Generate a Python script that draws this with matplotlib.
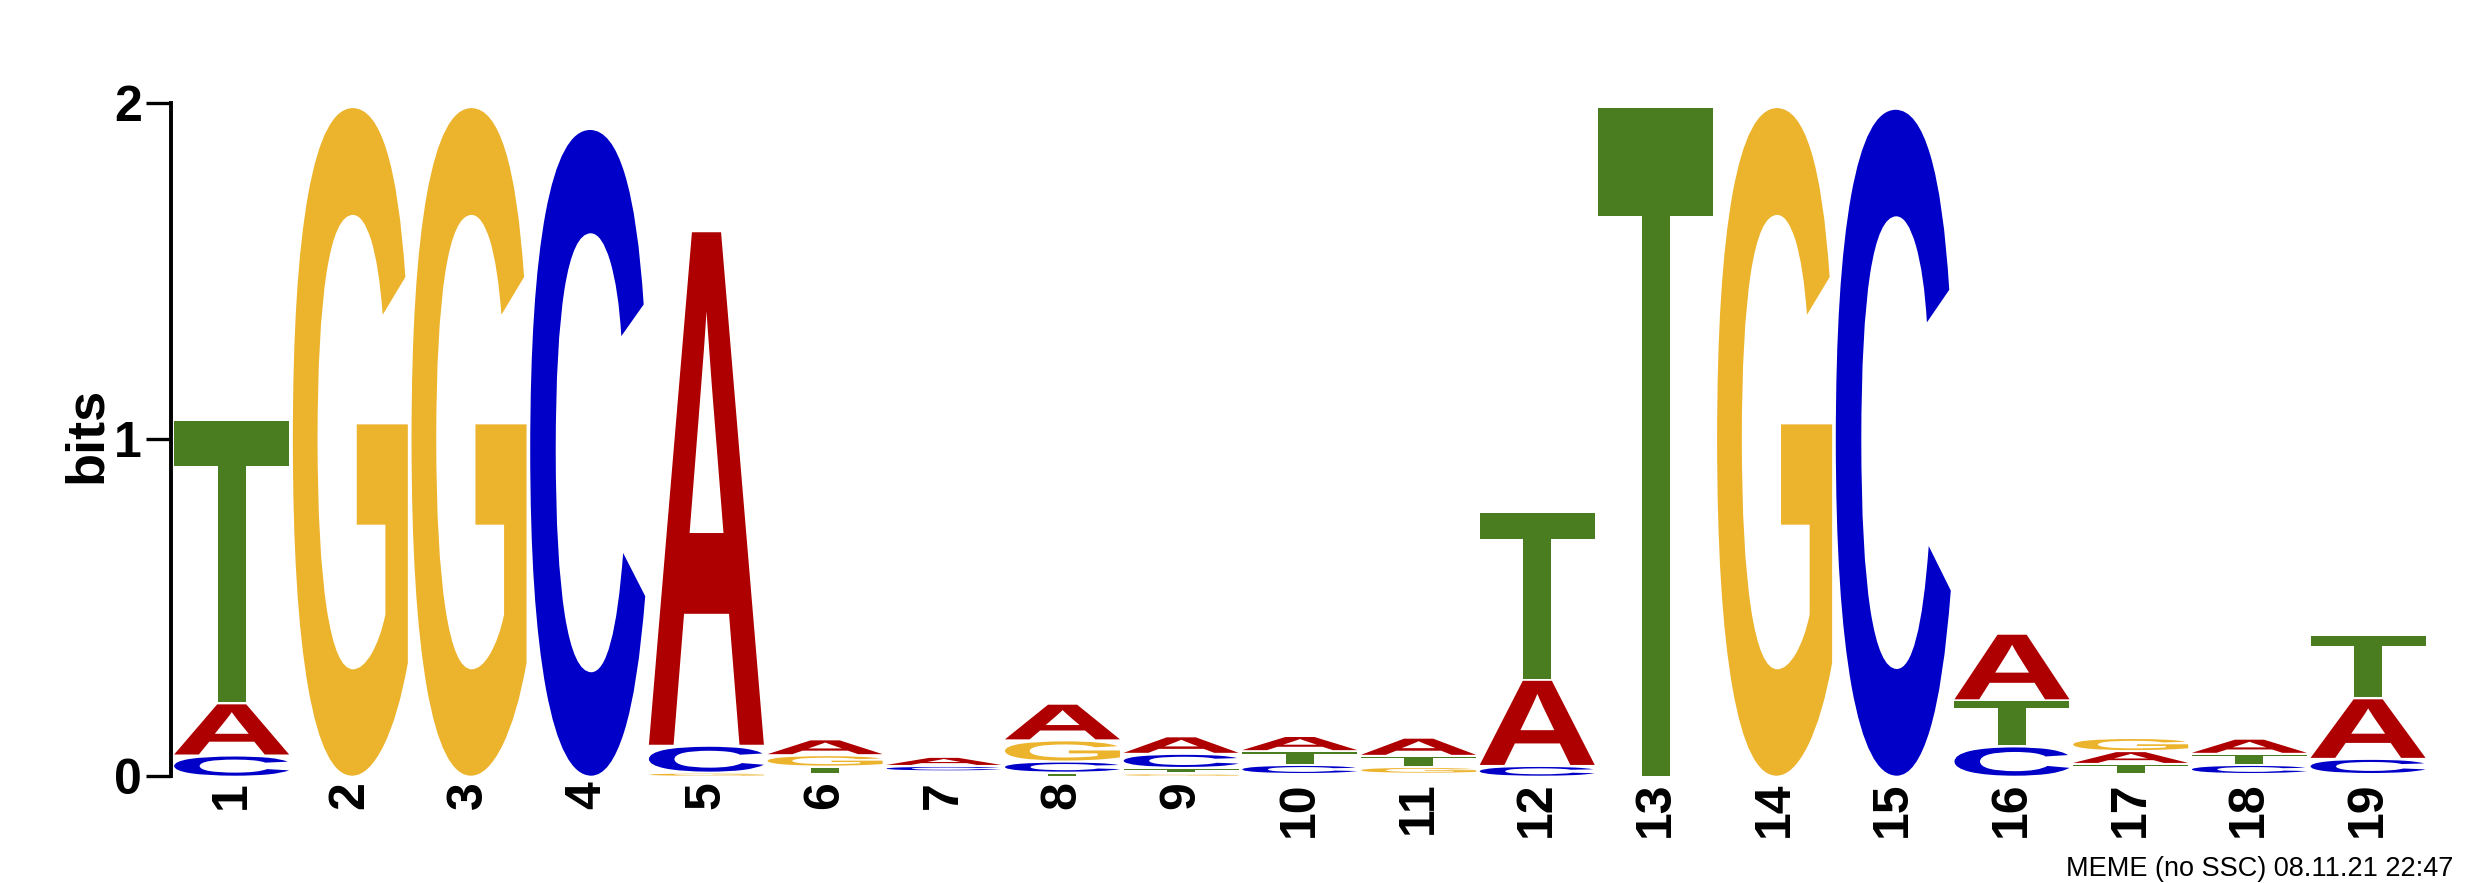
import matplotlib
matplotlib.use('Agg')
import matplotlib.pyplot as plt
from matplotlib.textpath import TextPath
from matplotlib.patches import PathPatch
from matplotlib.font_manager import FontProperties
from matplotlib.transforms import Affine2D

# information content (bits) per letter, positions 1..19
positions = list(range(1, 20))
bits_A = [0.155, 0, 0, 0, 1.529, 0.047, 0.027, 0.109, 0.052, 0.045,
          0.054, 0.256, 0, 0, 0, 0.198, 0.038, 0.045, 0.180]
bits_C = [0.063, 0, 0, 1.925, 0.080, 0.008, 0.016, 0.033, 0.042, 0.027,
          0.009, 0.032, 0, 0, 1.985, 0.090, 0.008, 0.027, 0.045]
bits_G = [0, 1.99, 1.99, 0, 0.012, 0.034, 0.008, 0.063, 0.010, 0.008,
          0.020, 0, 0, 1.99, 0, 0, 0.039, 0.008, 0.008]
bits_T = [0.843, 0, 0, 0, 0, 0.022, 0.008, 0.012, 0.016, 0.041,
          0.033, 0.500, 1.99, 0, 0, 0.137, 0.030, 0.033, 0.187]

colors = {'A': '#AE0000', 'C': '#0000C8', 'G': '#ECB32D', 'T': '#4A7D20'}
letters = {'A': bits_A, 'C': bits_C, 'G': bits_G, 'T': bits_T}

W, H = 2479, 883
fig = plt.figure(figsize=(W / 100, H / 100), dpi=100)
ax = fig.add_axes([170.7 / W, 107.3 / H, 2256.7 / W, 673 / H])
ax.set_xlim(0.4865, 19.5)
ax.set_ylim(0, 2)

glyph_font = FontProperties(family='Liberation Sans', weight='bold')
glyphs = {ch: TextPath((0, 0), ch, size=1, prop=glyph_font) for ch in 'ACGT'}

gap = 0.006
col_w = 0.969


def draw_letter(ch, x, y, w, h):
    p = glyphs[ch]
    ext = p.get_extents()
    t = (Affine2D().translate(-ext.x0, -ext.y0)
         .scale(w / ext.width, h / ext.height).translate(x, y))
    ax.add_patch(PathPatch(t.transform_path(p), fc=colors[ch], ec='none',
                           lw=0, clip_on=False))


for i, pos in enumerate(positions):
    stack = sorted([(letters[ch][i], ch) for ch in 'ACGT'])
    y = 0
    for h, ch in stack:
        if h <= 0:
            continue
        if h - gap >= 0.003:
            draw_letter(ch, pos - col_w / 2, y, col_w, h - gap)
        y += h

for s in ['top', 'right', 'bottom']:
    ax.spines[s].set_visible(False)
ax.spines['left'].set_linewidth(2.8)
ax.spines['left'].set_bounds(0, 2)
ax.spines['left'].set_capstyle('projecting')

ax.set_yticks([0, 1, 2])
ax.set_yticklabels(['0', '1', '2'], fontsize=36, fontweight='bold',
                   family='Liberation Sans')
ax.tick_params(axis='y', length=17.8, width=2.4, pad=3)

ax.set_xticks(positions)
ax.set_xticklabels([str(p) for p in positions], rotation=90, fontsize=36,
                   fontweight='bold', family='Liberation Sans', va='top')
ax.tick_params(axis='x', length=0, pad=4)

fig.text(87 / W, 1 - 435 / H, 'bits', rotation=90, ha='center', va='center',
         fontsize=39, fontweight='bold', family='Liberation Sans')
fig.text(2453 / W, 1 - 876 / H, 'MEME (no SSC) 08.11.21 22:47', ha='right',
         va='baseline', fontsize=19.5, family='Liberation Sans')

fig.savefig('out.png', dpi=100)
